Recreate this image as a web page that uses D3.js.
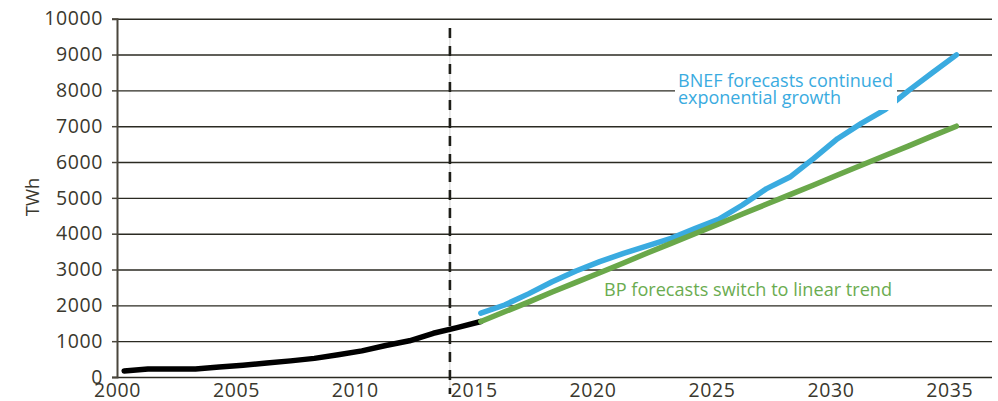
<!DOCTYPE html>
<html><head><meta charset="utf-8">
<script src="https://cdn.jsdelivr.net/npm/d3@7"></script>
<style>body{margin:0;background:#fff}svg{display:block}</style>
</head><body>
<svg id="c" width="998" height="401"></svg>
<script>
const histYears  = [2000,2001,2002,2003,2004,2005,2006,2007,2008,2009,2010,2011,2012,2013,2014,2015];
const histValues = [170,220,220,225,280,330,390,450,520,620,730,880,1010,1220,1380,1550];
const fcYears    = [2015,2016,2017,2018,2019,2020,2021,2022,2023,2024,2025,2026,2027,2028,2029,2030,2031,2032,2033,2034,2035];
const bnefValues = [1780,2010,2320,2660,2960,3220,3450,3660,3870,4140,4400,4800,5250,5580,6100,6650,7080,7460,8000,8500,8990];
const bpValues   = [1550,1820,2090,2370,2640,2910,3180,3460,3730,4000,4270,4550,4820,5090,5360,5640,5910,6180,6450,6730,7000];
const yTicks = [0,1000,2000,3000,4000,5000,6000,7000,8000,9000,10000];
const xTicks = [2000,2005,2010,2015,2020,2025,2030,2035];
const dividerYear = 2014;
const pointOffset = 0.3;
const yTitle = "TWh";
const bnefLabel = ["BNEF forecasts continued", "exponential growth"];
const bpLabel = "BP forecasts switch to linear trend";

const FONT = "'Open Sans', 'Noto Sans', sans-serif";
const svg = d3.select("#c");
const x = d3.scaleLinear().domain([2000, 2035]).range([117, 949.3]);
const y = d3.scaleLinear().domain([0, 10000]).range([377, 18.7]);
const gridRight = 992;

// gridlines
const grid = svg.append("g").attr("transform", `translate(${x(2000)},0)`)
  .call(d3.axisLeft(y).tickValues(yTicks).tickSize(-(gridRight - x(2000))).tickFormat(""));
grid.select(".domain").remove();
grid.selectAll("line").attr("stroke", "#2b2a22").attr("stroke-width", 1.4);

// y axis with outside ticks
const ya = svg.append("g").attr("transform", `translate(${x(2000)},0)`)
  .call(d3.axisLeft(y).tickValues(yTicks).tickSize(5).tickPadding(9).tickFormat(d3.format("d")));
ya.select(".domain").attr("stroke", "#4a463c").attr("stroke-width", 2);
ya.selectAll("line").attr("stroke", "#4a463c").attr("stroke-width", 1.5);
ya.selectAll("text").attr("font-family", FONT).attr("font-size", 19.5).attr("letter-spacing", "0.6px").attr("fill", "#3a382e");

// x axis labels
const xa = svg.append("g").attr("transform", `translate(0,${y(0)})`)
  .call(d3.axisBottom(x).tickValues(xTicks).tickSize(0).tickPadding(6).tickFormat(d3.format("d")));
xa.select(".domain").remove();
xa.selectAll("text").attr("font-family", FONT).attr("font-size", 19.5).attr("letter-spacing", "0.6px").attr("fill", "#3a382e");

// y title
svg.append("text").attr("transform", `translate(33,197) rotate(-90)`)
  .attr("text-anchor", "middle").attr("dy", "0.35em")
  .attr("font-family", FONT).attr("font-size", 18.5).attr("fill", "#3a382e").text(yTitle);

// divider
const xd = x(dividerYear);
svg.append("line").attr("x1", xd).attr("x2", xd).attr("y1", 28).attr("y2", 394)
  .attr("stroke", "#cfcfcf").attr("stroke-width", 1);
svg.append("line").attr("x1", xd).attr("x2", xd).attr("y1", 28).attr("y2", 394)
  .attr("stroke", "#1e1e18").attr("stroke-width", 2.6).attr("stroke-dasharray", "10,8");

// series
const line = d3.line().x(d => x(d[0] + pointOffset)).y(d => y(d[1]));
function drawSeries(years, vals, color) {
  svg.append("path").datum(years.map((yr, i) => [yr, vals[i]]))
    .attr("d", line).attr("fill", "none").attr("stroke", color)
    .attr("stroke-width", 5.5).attr("stroke-linecap", "round").attr("stroke-linejoin", "round");
}
drawSeries(histYears, histValues, "#000000");
drawSeries(fcYears, bnefValues, "#3aabe0");
drawSeries(fcYears, bpValues, "#6aa84a");

// BNEF label
svg.append("rect").attr("x", 675).attr("y", 68).attr("width", 222).attr("height", 42).attr("fill", "#fff");
const bt = svg.append("text").attr("font-family", FONT).attr("font-size", 18.5).attr("fill", "#3aabe0");
bt.append("tspan").attr("x", 678).attr("y", 87).attr("textLength", 215).attr("lengthAdjust", "spacingAndGlyphs").text(bnefLabel[0]);
bt.append("tspan").attr("x", 678).attr("y", 104).attr("textLength", 163).attr("lengthAdjust", "spacingAndGlyphs").text(bnefLabel[1]);

// BP label
svg.append("text").attr("x", 604).attr("y", 295.5).attr("font-family", FONT).attr("font-size", 18.5)
  .attr("fill", "#6aac50").attr("textLength", 288).attr("lengthAdjust", "spacingAndGlyphs").text(bpLabel);
</script>
</body></html>
